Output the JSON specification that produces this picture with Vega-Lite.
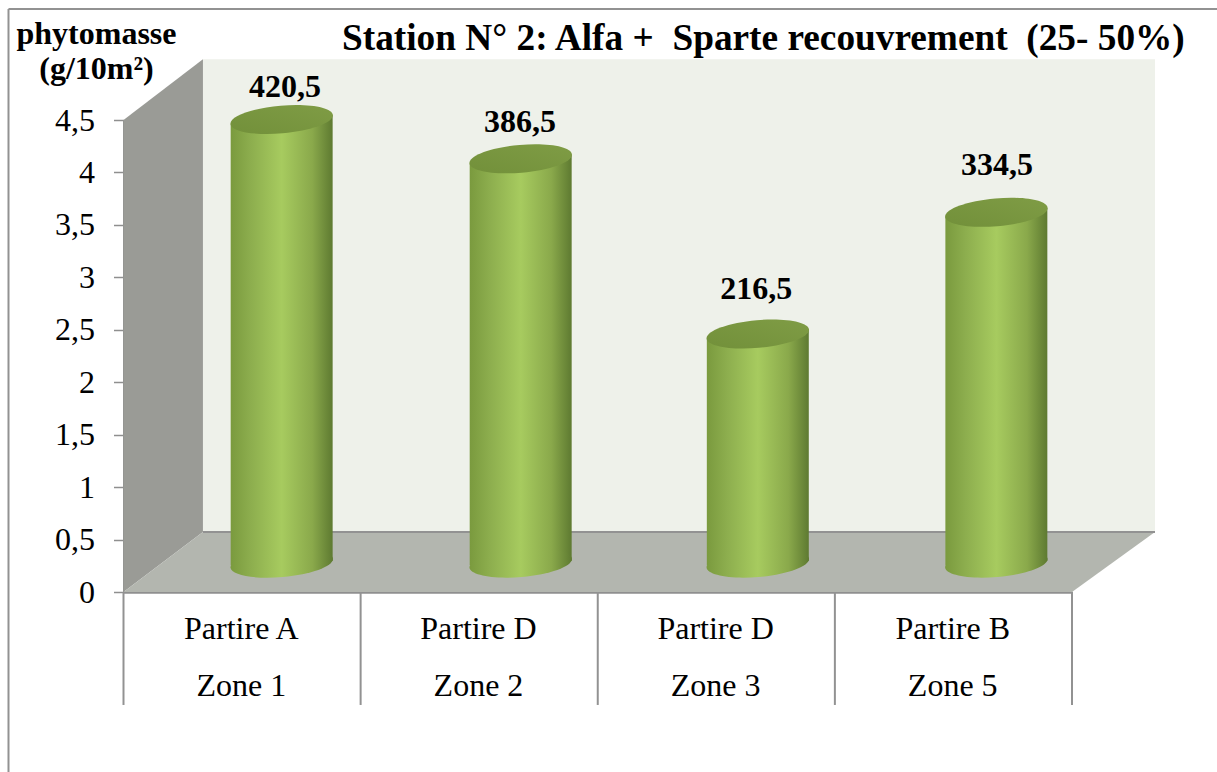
{
"$schema":"https://vega.github.io/schema/vega-lite/v6.json",
"autosize":"none",
"width":948.5,"height":472,
"padding":{"left":123.5,"top":120,"right":145,"bottom":180},
"background":"white",
"config":{"view":{"stroke":null},"font":"Liberation Serif"},
"title":{"text":"Station N° 2: Alfa + \u00a0Sparte recouvrement \u00a0(25- 50%)","anchor":"start","frame":"group","dx":218.5,"offset":-79,"baseline":"alphabetic","font":"Liberation Serif","fontSize":37.3,"fontWeight":"bold","color":"#000000"},
"datasets":{
"panels":[
{"part":"wall","x":0.335,"y0":0.572,"y1":5.08},
{"part":"wall","x":4.35,"y0":0.572,"y1":5.08},
{"part":"side","x":0,"y0":0,"y1":4.5},
{"part":"side","x":0.335,"y0":0.572,"y1":5.08},
{"part":"floor","x":0,"y0":0,"y1":0},
{"part":"floor","x":0.335,"y0":0,"y1":0.572},
{"part":"floor","x":4,"y0":0,"y1":0.572},
{"part":"floor","x":4.35,"y0":0.572,"y1":0.572}
],
"lines":[
{"kind":"frame","x":-0.485,"x2":-0.485,"y":5.558,"y2":-1.716},
{"kind":"frame","x":-0.485,"x2":4.616,"y":5.558,"y2":5.558},
{"kind":"edge","x":0.335,"x2":4.35,"y":0.572,"y2":0.572},
{"kind":"sep","x":0,"x2":0,"y":0,"y2":-1.077},
{"kind":"sep","x":1,"x2":1,"y":0,"y2":-1.077},
{"kind":"sep","x":2,"x2":2,"y":0,"y2":-1.077},
{"kind":"sep","x":3,"x2":3,"y":0,"y2":-1.077},
{"kind":"sep","x":4,"x2":4,"y":0,"y2":-1.077}
],
"cyl":[
{"zone":"Zone 1","x":0.452,"bottom":0.254,"top":4.463},
{"zone":"Zone 1","x":0.882,"bottom":0.296,"top":4.547},
{"zone":"Zone 2","x":1.46,"bottom":0.254,"top":4.088},
{"zone":"Zone 2","x":1.89,"bottom":0.296,"top":4.172},
{"zone":"Zone 3","x":2.46,"bottom":0.254,"top":2.418},
{"zone":"Zone 3","x":2.89,"bottom":0.296,"top":2.502},
{"zone":"Zone 5","x":3.466,"bottom":0.254,"top":3.578},
{"zone":"Zone 5","x":3.896,"bottom":0.296,"top":3.662}
],
"bars":[
{"zone":"Zone 1","x":0.667,"bottom":0.275,"top":4.505,"phytomasse":"420,5","labelX":0.681,"labelY":4.81},
{"zone":"Zone 2","x":1.675,"bottom":0.275,"top":4.13,"phytomasse":"386,5","labelX":1.672,"labelY":4.48},
{"zone":"Zone 3","x":2.675,"bottom":0.275,"top":2.46,"phytomasse":"216,5","labelX":2.668,"labelY":2.89},
{"zone":"Zone 5","x":3.681,"bottom":0.275,"top":3.62,"phytomasse":"334,5","labelX":3.684,"labelY":4.07}
],
"cats":[
{"x":0.497,"partie":"Partire A","zone":"Zone 1","yP":-0.353,"yZ":-0.896},
{"x":1.497,"partie":"Partire D","zone":"Zone 2","yP":-0.353,"yZ":-0.896},
{"x":2.497,"partie":"Partire D","zone":"Zone 3","yP":-0.353,"yZ":-0.896},
{"x":3.497,"partie":"Partire B","zone":"Zone 5","yP":-0.353,"yZ":-0.896}
]
},
"layer":[
{"data":{"name":"panels"},"mark":{"type":"area","clip":false,"interpolate":"linear"},
 "encoding":{
  "x":{"field":"x","type":"quantitative","scale":{"domain":[0,4],"nice":false,"zero":false},"axis":{"title":null,"grid":false,"labels":false,"ticks":false,"domain":true,"domainColor":"#8f8f8f","domainWidth":2.5}},
  "y":{"field":"y0","type":"quantitative","stack":null,"scale":{"domain":[0,4.5],"nice":false},"axis":{"values":[0,0.5,1,1.5,2,2.5,3,3.5,4,4.5],"labelExpr":"replace(format(datum.value,'.1~f'),'.',',')","grid":false,"domain":true,"domainColor":"#8f8f8f","domainWidth":2,"tickColor":"#8f8f8f","tickSize":10,"tickWidth":1.5,"labelFont":"Liberation Serif","labelFontSize":32,"labelColor":"#000000","labelPadding":19,"labelOverlap":false,"title":["phytomasse","(g/10m²)"],"titleFont":"Liberation Serif","titleFontSize":32,"titleFontWeight":"bold","titleColor":"#000000","titleAngle":0,"titleAlign":"center","titleBaseline":"alphabetic","titleX":-27.5,"titleY":-77,"titleLineHeight":35}},
  "y2":{"field":"y1"},
  "color":{"field":"part","type":"nominal","legend":null,"scale":{"domain":["wall","side","floor"],"range":["#eef1ea","#9a9b96","#b3b6af"]}}
 }},
{"data":{"name":"lines"},"mark":{"type":"rule","clip":false,"strokeWidth":2,"color":"#929292"},
 "encoding":{
  "x":{"field":"x","type":"quantitative"},"x2":{"field":"x2"},
  "y":{"field":"y","type":"quantitative"},"y2":{"field":"y2"}
 }},
{"data":{"name":"cyl"},"mark":{"type":"area","clip":false,"color":{"x1":0,"y1":0,"x2":1,"y2":0,"gradient":"linear","stops":[{"offset":0,"color":"#7a9a3e"},{"offset":0.2,"color":"#8dae4e"},{"offset":0.5,"color":"#a7cb5f"},{"offset":0.8,"color":"#8aa94b"},{"offset":1,"color":"#5e7a31"}]}},
 "encoding":{
  "x":{"field":"x","type":"quantitative"},
  "y":{"field":"bottom","type":"quantitative","stack":null},
  "y2":{"field":"top"},
  "detail":{"field":"zone"}
 }},
{"data":{"name":"bars"},"mark":{"type":"point","clip":false,"filled":true,"opacity":1,"size":10500,"shape":"M-1,0.087 A1,0.27 -5 1 0 1,-0.087 A1,0.27 -5 1 0 -1,0.087 Z","color":{"x1":0,"y1":0,"x2":1,"y2":0,"gradient":"linear","stops":[{"offset":0,"color":"#7a9a3e"},{"offset":0.2,"color":"#8dae4e"},{"offset":0.5,"color":"#a7cb5f"},{"offset":0.8,"color":"#8aa94b"},{"offset":1,"color":"#5e7a31"}]}},
 "encoding":{
  "x":{"field":"x","type":"quantitative"},
  "y":{"field":"bottom","type":"quantitative"}
 }},
{"data":{"name":"bars"},"mark":{"type":"point","clip":false,"filled":true,"opacity":1,"size":10500,"shape":"M-1,0.087 A1,0.27 -5 1 0 1,-0.087 A1,0.27 -5 1 0 -1,0.087 Z","color":{"x1":0,"y1":1,"x2":1,"y2":0,"gradient":"linear","stops":[{"offset":0,"color":"#72903a"},{"offset":1,"color":"#7f9c45"}]}},
 "encoding":{
  "x":{"field":"x","type":"quantitative"},
  "y":{"field":"top","type":"quantitative"}
 }},
{"data":{"name":"bars"},"mark":{"type":"text","clip":false,"font":"Liberation Serif","fontSize":32,"fontWeight":"bold","color":"#000000","baseline":"middle"},
 "encoding":{
  "x":{"field":"labelX","type":"quantitative"},
  "y":{"field":"labelY","type":"quantitative"},
  "text":{"field":"phytomasse"}
 }},
{"data":{"name":"cats"},"mark":{"type":"text","clip":false,"font":"Liberation Serif","fontSize":32,"color":"#000000","baseline":"middle"},
 "encoding":{
  "x":{"field":"x","type":"quantitative"},
  "y":{"field":"yP","type":"quantitative"},
  "text":{"field":"partie"}
 }},
{"data":{"name":"cats"},"mark":{"type":"text","clip":false,"font":"Liberation Serif","fontSize":32,"color":"#000000","baseline":"middle"},
 "encoding":{
  "x":{"field":"x","type":"quantitative"},
  "y":{"field":"yZ","type":"quantitative"},
  "text":{"field":"zone"}
 }}
]
}
